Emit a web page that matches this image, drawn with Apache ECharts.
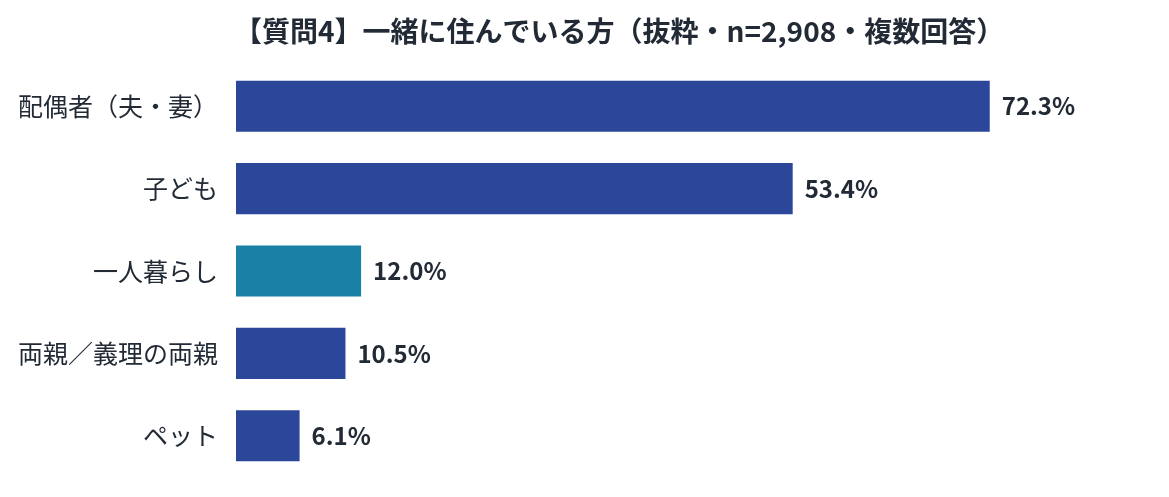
<!DOCTYPE html>
<html>
<head>
<meta charset="utf-8">
<script src="https://cdn.jsdelivr.net/npm/echarts@6/dist/echarts.min.js"></script>
<style>
  html, body { margin: 0; padding: 0; background: #fff; }
  #chart1 { width: 1169px; height: 497px; }
</style>
</head>
<body>
<div id="chart1"></div>
<script>
// data
const categories = ['配偶者（夫・妻）', '子ども', '一人暮らし', '両親／義理の両親', 'ペット'];
const values = [72.3, 53.4, 12.0, 10.5, 6.1];
const barColors = ['#2c4699', '#2c4699', '#1a80a6', '#2c4699', '#2c4699'];
const titleText = '【質問4】一緒に住んでいる方（抜粋・n=2,908・複数回答）';

const font = '"Noto Sans CJK JP", "Noto Sans", sans-serif';

let Chart1 = echarts.init(document.getElementById('chart1'));

let seriesData = [];
for (let i = 0; i < values.length; i++) {
    seriesData.push({ value: values[i], itemStyle: { color: barColors[i] } });
}

let option1 = {
    animation: false,
    textStyle: { fontFamily: font },
    title: {
        text: titleText,
        left: 229,
        top: 12,
        textStyle: {
            fontFamily: font,
            fontSize: 28,
            fontWeight: 'bold',
            color: '#222a35'
        }
    },
    grid: {
        left: 236,
        width: 834,
        top: 65,
        bottom: 20
    },
    xAxis: {
        type: 'value',
        min: 0,
        max: 80,
        show: false
    },
    yAxis: {
        type: 'category',
        inverse: true,
        data: categories,
        axisLine: { show: false },
        axisTick: { show: false },
        axisLabel: {
            margin: 18,
            fontFamily: font,
            fontSize: 25,
            color: '#222a35'
        }
    },
    series: [
        {
            type: 'bar',
            data: seriesData,
            barCategoryGap: '38%',
            label: {
                show: true,
                position: 'right',
                distance: 12,
                fontFamily: font,
                fontSize: 24,
                fontWeight: 'bold',
                color: '#222a35',
                formatter: function (p) { return p.value.toFixed(1) + '%'; }
            }
        }
    ]
};

Chart1.setOption(option1);
</script>
</body>
</html>
